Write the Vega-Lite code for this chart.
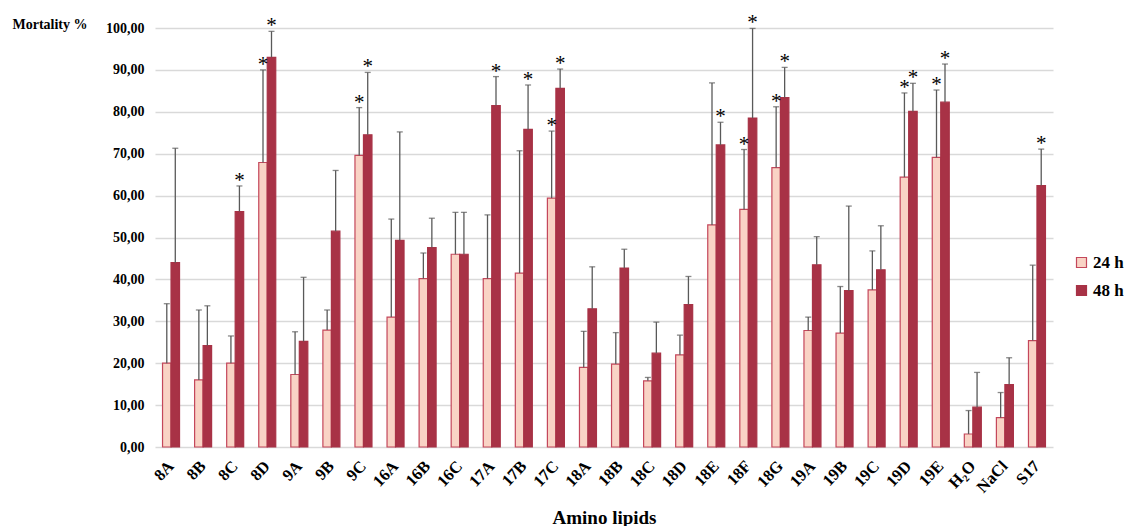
{
  "$schema": "https://vega.github.io/schema/vega-lite/v6.json",
  "width": 898,
  "height": 419,
  "autosize": "none",
  "padding": {"left": 155, "top": 28, "right": 72, "bottom": 79},
  "background": "white",
  "config": {
    "view": {"stroke": null},
    "font": "Liberation Serif"
  },
  "data": {
    "values": [
      {"cat": "8A", "series": "24 h", "value": 20.0, "upper": 34.2, "star": false},
      {"cat": "8A", "series": "48 h", "value": 44.0, "upper": 71.3, "star": false},
      {"cat": "8B", "series": "24 h", "value": 16.0, "upper": 32.7, "star": false},
      {"cat": "8B", "series": "48 h", "value": 24.2, "upper": 33.7, "star": false},
      {"cat": "8C", "series": "24 h", "value": 20.0, "upper": 26.5, "star": false},
      {"cat": "8C", "series": "48 h", "value": 56.2, "upper": 62.3, "star": true},
      {"cat": "8D", "series": "24 h", "value": 67.9, "upper": 90.0, "star": true},
      {"cat": "8D", "series": "48 h", "value": 93.0, "upper": 99.2, "star": true},
      {"cat": "9A", "series": "24 h", "value": 17.3, "upper": 27.5, "star": false},
      {"cat": "9A", "series": "48 h", "value": 25.2, "upper": 40.5, "star": false},
      {"cat": "9B", "series": "24 h", "value": 27.9, "upper": 32.7, "star": false},
      {"cat": "9B", "series": "48 h", "value": 51.5, "upper": 66.0, "star": false},
      {"cat": "9C", "series": "24 h", "value": 69.6, "upper": 81.0, "star": true},
      {"cat": "9C", "series": "48 h", "value": 74.5, "upper": 89.4, "star": true},
      {"cat": "16A", "series": "24 h", "value": 31.0, "upper": 54.4, "star": false},
      {"cat": "16A", "series": "48 h", "value": 49.3, "upper": 75.2, "star": false},
      {"cat": "16B", "series": "24 h", "value": 40.2, "upper": 46.3, "star": false},
      {"cat": "16B", "series": "48 h", "value": 47.6, "upper": 54.6, "star": false},
      {"cat": "16C", "series": "24 h", "value": 46.0, "upper": 56.0, "star": false},
      {"cat": "16C", "series": "48 h", "value": 46.0, "upper": 56.0, "star": false},
      {"cat": "17A", "series": "24 h", "value": 40.2, "upper": 55.4, "star": false},
      {"cat": "17A", "series": "48 h", "value": 81.5, "upper": 88.4, "star": true},
      {"cat": "17B", "series": "24 h", "value": 41.5, "upper": 70.7, "star": false},
      {"cat": "17B", "series": "48 h", "value": 75.8, "upper": 86.4, "star": true},
      {"cat": "17C", "series": "24 h", "value": 59.4, "upper": 75.4, "star": true},
      {"cat": "17C", "series": "48 h", "value": 85.6, "upper": 90.2, "star": true},
      {"cat": "18A", "series": "24 h", "value": 19.0, "upper": 27.6, "star": false},
      {"cat": "18A", "series": "48 h", "value": 33.0, "upper": 43.0, "star": false},
      {"cat": "18B", "series": "24 h", "value": 19.8, "upper": 27.3, "star": false},
      {"cat": "18B", "series": "48 h", "value": 42.7, "upper": 47.2, "star": false},
      {"cat": "18C", "series": "24 h", "value": 15.8, "upper": 16.6, "star": false},
      {"cat": "18C", "series": "48 h", "value": 22.4, "upper": 29.8, "star": false},
      {"cat": "18D", "series": "24 h", "value": 22.0, "upper": 26.7, "star": false},
      {"cat": "18D", "series": "48 h", "value": 34.0, "upper": 40.7, "star": false},
      {"cat": "18E", "series": "24 h", "value": 53.0, "upper": 86.9, "star": false},
      {"cat": "18E", "series": "48 h", "value": 72.1, "upper": 77.5, "star": true},
      {"cat": "18F", "series": "24 h", "value": 56.7, "upper": 71.0, "star": true},
      {"cat": "18F", "series": "48 h", "value": 78.5, "upper": 99.9, "star": true},
      {"cat": "18G", "series": "24 h", "value": 66.7, "upper": 81.2, "star": true},
      {"cat": "18G", "series": "48 h", "value": 83.4, "upper": 90.6, "star": true},
      {"cat": "19A", "series": "24 h", "value": 27.8, "upper": 31.0, "star": false},
      {"cat": "19A", "series": "48 h", "value": 43.5, "upper": 50.2, "star": false},
      {"cat": "19B", "series": "24 h", "value": 27.2, "upper": 38.3, "star": false},
      {"cat": "19B", "series": "48 h", "value": 37.3, "upper": 57.5, "star": false},
      {"cat": "19C", "series": "24 h", "value": 37.5, "upper": 46.8, "star": false},
      {"cat": "19C", "series": "48 h", "value": 42.3, "upper": 52.8, "star": false},
      {"cat": "19D", "series": "24 h", "value": 64.4, "upper": 84.5, "star": true},
      {"cat": "19D", "series": "48 h", "value": 80.1, "upper": 86.8, "star": true},
      {"cat": "19E", "series": "24 h", "value": 69.1, "upper": 85.2, "star": true},
      {"cat": "19E", "series": "48 h", "value": 82.3, "upper": 91.4, "star": true},
      {"cat": "H₂O", "series": "24 h", "value": 3.1, "upper": 8.7, "star": false},
      {"cat": "H₂O", "series": "48 h", "value": 9.5, "upper": 17.8, "star": false},
      {"cat": "NaCl", "series": "24 h", "value": 7.0, "upper": 13.0, "star": false},
      {"cat": "NaCl", "series": "48 h", "value": 14.9, "upper": 21.3, "star": false},
      {"cat": "S17", "series": "24 h", "value": 25.4, "upper": 43.4, "star": false},
      {"cat": "S17", "series": "48 h", "value": 62.4, "upper": 71.1, "star": true}
    ]
  },
  "encoding": {
    "x": {
      "field": "cat",
      "type": "nominal",
      "sort": null,
      "scale": {"paddingInner": 0.47, "paddingOuter": 0.235},
      "axis": {
        "title": "Amino lipids",
        "titleFont": "Liberation Serif",
        "titleFontSize": 19,
        "titleFontWeight": "bold",
        "titleColor": "black",
        "titleY": 70,
        "titleBaseline": "middle",
        "labelAngle": -47,
        "labelFont": "Liberation Serif",
        "labelFontSize": 16.5,
        "labelFontWeight": "bold",
        "labelColor": "black",
        "labelPadding": 16,
        "labelOffset": 0,
        "domain": false,
        "ticks": false,
        "grid": false
      }
    },
    "xOffset": {
      "field": "series",
      "type": "nominal",
      "scale": {"paddingInner": 0, "paddingOuter": 0}
    }
  },
  "layer": [
    {
      "mark": {"type": "bar", "strokeWidth": 1.2},
      "encoding": {
        "y": {
          "field": "value",
          "type": "quantitative",
          "scale": {"domain": [0, 100]},
          "axis": {
            "title": "Mortality %",
            "titleAngle": 0,
            "titleX": -143,
            "titleY": -4,
            "titleAlign": "left",
            "titleBaseline": "middle",
            "titleFont": "Liberation Serif",
            "titleFontSize": 14,
            "titleFontWeight": "bold",
            "titleColor": "black",
            "values": [0, 10, 20, 30, 40, 50, 60, 70, 80, 90, 100],
            "labelExpr": "replace(format(datum.value, '.2f'), '.', ',')",
            "labelFont": "Liberation Serif",
            "labelFontSize": 14,
            "labelFontWeight": "bold",
            "labelColor": "black",
            "labelPadding": 11,
            "domain": false,
            "ticks": false,
            "grid": true,
            "gridColor": "#D9D9D9",
            "gridWidth": 1.5
          }
        },
        "fill": {
          "field": "series",
          "type": "nominal",
          "scale": {"domain": ["24 h", "48 h"], "range": ["#F9D3C5", "#A83246"]},
          "legend": {
            "title": null,
            "orient": "none",
            "legendX": 918,
            "legendY": 226,
            "symbolType": "square",
            "symbolSize": 100,
            "symbolStrokeWidth": 1.2,
            "labelFont": "Liberation Serif",
            "labelFontSize": 17,
            "labelFontWeight": "bold",
            "labelColor": "black",
            "labelOffset": 3,
            "rowPadding": 10
          }
        },
        "stroke": {
          "field": "series",
          "type": "nominal",
          "scale": {"domain": ["24 h", "48 h"], "range": ["#C4475B", "#A83246"]},
          "legend": null
        }
      }
    },
    {
      "mark": {"type": "rule", "color": "#595959", "strokeWidth": 1.3},
      "encoding": {
        "y": {"field": "value", "type": "quantitative"},
        "y2": {"field": "upper"}
      }
    },
    {
      "mark": {"type": "tick", "color": "#595959", "thickness": 1.3, "size": 6, "orient": "horizontal"},
      "encoding": {
        "y": {"field": "upper", "type": "quantitative"}
      }
    },
    {
      "transform": [{"filter": "datum.star"}],
      "mark": {"type": "text", "text": "*", "font": "Liberation Serif", "fontSize": 21, "baseline": "alphabetic", "dy": 1, "color": "black"},
      "encoding": {
        "y": {"field": "upper", "type": "quantitative"}
      }
    }
  ]
}
